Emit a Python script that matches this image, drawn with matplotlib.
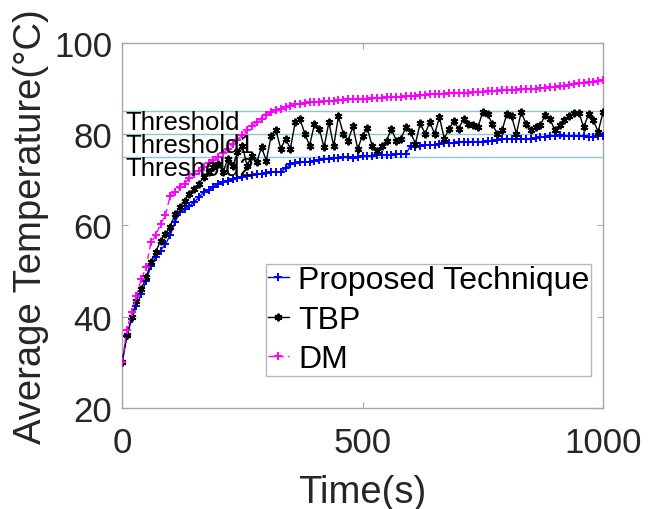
import matplotlib
matplotlib.use("Agg")
import matplotlib.pyplot as plt
import numpy as np

plt.rcParams["font.family"] = ["Liberation Sans", "DejaVu Sans"]

# Sampling instants (s)
time_s = np.arange(0, 1001, 10)

# Average temperature (degC) per technique
proposed = [
    30.0, 35.7, 39.5, 42.4, 45.0, 47.9, 51.2, 53.0, 54.5, 55.9,
    57.8, 60.7, 62.9, 63.6, 64.3, 65.1, 66.2, 67.3, 67.8, 68.5,
    69.0, 69.6, 69.8, 70.1, 70.4, 70.6, 70.9, 71.1, 71.3, 71.3,
    71.5, 71.6, 71.7, 71.8, 72.5, 73.4, 73.7, 73.9, 73.9, 74.0,
    74.2, 74.4, 74.5, 74.6, 74.7, 74.8, 74.9, 74.9, 74.8, 74.9,
    75.2, 75.3, 75.3, 75.4, 75.4, 75.5, 75.5, 75.6, 75.6, 75.7,
    77.4, 77.2, 77.5, 77.6, 77.6, 77.7, 77.8, 78.0, 78.1, 78.1,
    78.2, 78.2, 78.2, 78.2, 78.3, 78.3, 78.4, 78.6, 78.7, 79.0,
    79.0, 79.0, 78.9, 78.9, 79.0, 79.0, 79.2, 79.3, 79.4, 79.6,
    79.7, 79.8, 79.7, 79.6, 79.7, 79.5, 79.5, 79.4, 79.3, 79.5,
    79.7,
]
tbp = [
    30.0, 35.9, 39.9, 43.5, 46.1, 48.6, 51.9, 54.1, 56.7, 58.1,
    59.6, 62.5, 64.0, 65.4, 66.9, 68.0, 69.1, 70.6, 71.7, 72.8,
    73.5, 71.7, 74.6, 73.0, 76.0, 77.5, 73.1, 75.3, 73.9, 77.1,
    74.2, 79.7, 80.8, 76.8, 79.0, 76.8, 82.6, 83.3, 80.1, 77.5,
    82.2, 81.2, 77.1, 82.6, 77.4, 83.9, 80.1, 78.6, 81.7, 76.8,
    79.7, 81.3, 77.4, 76.4, 77.4, 78.6, 81.2, 78.6, 79.0, 81.5,
    80.4, 77.9, 82.4, 80.1, 82.6, 80.1, 83.7, 79.0, 81.2, 82.8,
    81.2, 83.3, 82.2, 82.0, 81.5, 84.9, 84.4, 82.2, 80.1, 80.8,
    84.4, 83.9, 80.1, 84.9, 82.2, 80.8, 81.5, 82.0, 84.2, 83.3,
    80.8, 81.9, 83.0, 83.9, 84.7, 84.7, 81.5, 84.4, 83.0, 80.5,
    84.8,
]
dm = [
    30.0, 37.2, 41.0, 44.6, 48.3, 50.8, 56.3, 57.8, 60.3, 62.2,
    66.5, 67.3, 68.4, 69.1, 70.5, 71.2, 72.0, 72.8, 73.6, 74.3,
    75.1, 75.8, 76.8, 77.8, 78.8, 79.8, 80.8, 81.8, 82.6, 83.4,
    84.2, 84.8, 85.2, 85.6, 85.9, 86.2, 86.5, 86.7, 86.9, 87.0,
    87.1, 87.1, 87.2, 87.3, 87.3, 87.4, 87.5, 87.6, 87.6, 87.7,
    87.8, 87.8, 87.9, 88.0, 88.0, 88.1, 88.1, 88.2, 88.2, 88.3,
    88.4, 88.4, 88.5, 88.6, 88.7, 88.8, 88.8, 88.9, 89.0, 89.0,
    89.1, 89.1, 89.1, 89.2, 89.3, 89.3, 89.4, 89.4, 89.5, 89.6,
    89.6, 89.7, 89.7, 89.8, 89.9, 89.9, 90.0, 90.1, 90.2, 90.3,
    90.4, 90.5, 90.6, 90.8, 90.9, 91.1, 91.2, 91.4, 91.5, 91.7,
    91.8,
]

# Temperature thresholds and their labels
threshold_values = [85, 80, 75]
threshold_labels = ["Threshold", "Threshold1", "Threshold2"]

fig = plt.figure(figsize=(6.67, 5.10), dpi=100)
ax = fig.add_axes([0.183, 0.198, 0.721, 0.716])

for level in threshold_values:
    ax.plot([0, 1000], [level, level], color="#8ec5d6", linewidth=1.0, zorder=1)

# asterisk marker, as in the original figure
asterisk = (6, 2, 0)

ax.plot(time_s, proposed, color=(0, 0, 1), linestyle="-", marker="+",
        markersize=6, markeredgewidth=1.4, linewidth=1.0,
        label="Proposed Technique", zorder=3)
ax.plot(time_s, tbp, color="black", linestyle="-", marker=asterisk,
        markersize=5.5, markeredgewidth=1.4, linewidth=1.0,
        label="TBP", zorder=4)
ax.plot(time_s, dm, color=(1, 0, 1), linestyle="--", marker="+",
        markersize=6, markeredgewidth=1.4, linewidth=1.0,
        dashes=(4, 3), label="DM", zorder=5)

for level, text in zip(threshold_values, threshold_labels):
    ax.text(6, level + 0.3, text, fontsize=18.5, color="black",
            ha="left", va="top", zorder=6)

ax.set_xlim(0, 1000)
ax.set_ylim(20, 100)
ax.set_xticks([0, 500, 1000])
ax.set_yticks([20, 40, 60, 80, 100])

for spine in ax.spines.values():
    spine.set_color("#a6a6a6")
    spine.set_linewidth(1.0)
ax.tick_params(direction="in", length=4, width=0.8, color="#a6a6a6",
               top=True, right=True, labelsize=25, labelcolor="#262626")
ax.tick_params(axis="x", pad=13)
ax.tick_params(axis="y", pad=7)

ax.set_xlabel("Time(s)", fontsize=27.5, color="#262626", labelpad=11)
ax.set_ylabel("Average Temperature(\u00b0C)", fontsize=27.5,
              color="#262626", labelpad=4)

leg = ax.legend(loc="lower left", bbox_to_anchor=(0.30, 0.088),
                borderaxespad=0, fontsize=23, frameon=True, fancybox=False,
                edgecolor="#a6a6a6", handlelength=0.65, handletextpad=0.3,
                borderpad=0.05, labelspacing=0.3)
leg.get_frame().set_linewidth(1.0)

fig.savefig("out.png", dpi=100, facecolor="white")
plt.close(fig)
